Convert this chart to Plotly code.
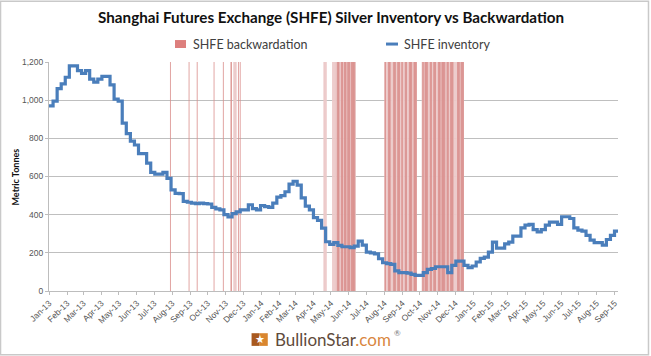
import pandas as pd
import plotly.graph_objects as go

TITLE = "Shanghai Futures Exchange (SHFE) Silver Inventory vs Backwardation"
Y_TITLE = "Metric Tonnes"
BRAND = "BullionStar"
BRAND_SUFFIX = ".com"
SERIES_BW = "SHFE backwardation"
SERIES_INV = "SHFE inventory"
INVENTORY_START = "2013-01-01"
INVENTORY = [
    970, 995, 1060, 1085, 1120, 1180, 1180, 1155, 1140, 1155,
    1110, 1095, 1110, 1125, 1125, 1080, 1005, 995, 880, 825,
    785, 765, 720, 720, 670, 622, 612, 612, 622, 590,
    530, 512, 510, 470, 465, 460, 458, 460, 458, 456,
    438, 430, 425, 400, 388, 405, 415, 425, 425, 452,
    432, 425, 448, 442, 438, 460, 492, 500, 520, 560,
    575, 555, 488, 445, 425, 385, 370, 330, 258, 244,
    253, 239, 232, 232, 227, 235, 261, 240, 204, 200,
    195, 169, 148, 143, 139, 105, 96, 96, 94, 87,
    82, 82, 96, 113, 118, 127, 127, 127, 96, 134,
    157, 157, 134, 122, 131, 152, 171, 178, 204, 256,
    225, 225, 247, 256, 288, 288, 331, 345, 349, 322,
    310, 322, 345, 361, 361, 349, 389, 389, 380, 331,
    319, 314, 291, 267, 253, 253, 240, 270, 291, 314, 314,
]
# Days of strong backwardation (solid stripes)
BACKWARDATION_STRONG = [
    ("2013-07-29", "2013-07-29"), ("2013-08-30", "2013-08-30"), ("2013-09-13", "2013-09-13"),
    ("2013-10-12", "2013-10-12"), ("2013-10-28", "2013-10-28"), ("2013-11-10", "2013-11-11"),
    ("2013-11-23", "2013-11-23"), ("2013-11-26", "2013-11-26"),
    ("2014-05-12", "2014-05-15"), ("2014-05-19", "2014-05-21"), ("2014-05-24", "2014-05-27"),
    ("2014-05-30", "2014-06-02"), ("2014-06-05", "2014-06-11"),
    ("2014-08-02", "2014-08-03"), ("2014-08-08", "2014-08-11"), ("2014-08-17", "2014-08-20"),
    ("2014-08-24", "2014-08-27"), ("2014-08-31", "2014-09-01"), ("2014-09-06", "2014-09-08"),
    ("2014-09-13", "2014-09-17"), ("2014-09-21", "2014-09-25"), ("2014-10-06", "2014-10-07"),
    ("2014-10-10", "2014-10-14"), ("2014-10-19", "2014-10-21"), ("2014-10-25", "2014-10-28"),
    ("2014-11-02", "2014-11-05"), ("2014-11-08", "2014-11-13"), ("2014-11-17", "2014-11-19"),
    ("2014-11-23", "2014-11-27"), ("2014-12-05", "2014-12-08"), ("2014-12-11", "2014-12-15"),
]
# Days of faint backwardation (pale stripes)
BACKWARDATION_FAINT = [
    ("2013-11-15", "2013-11-19"), ("2014-04-19", "2014-04-23"), ("2014-05-04", "2014-06-12"),
    ("2014-08-02", "2014-09-25"), ("2014-10-05", "2014-12-15"),
]
BACKWARDATION_LEVEL = 1200
MONTHS = pd.date_range("2013-01-01", "2015-09-01", freq="MS")
Y_TICKS = [0, 200, 400, 600, 800, 1000, 1200]

inv_dates = pd.date_range(INVENTORY_START, periods=len(INVENTORY), freq="7D")


def stripes(periods):
    xs, ys = [], []
    for a, b in periods:
        for d in pd.date_range(a, b):
            xs += [d, d, None]
            ys += [0, BACKWARDATION_LEVEL, None]
    return xs, ys


FONT = "Lato, 'Open Sans', sans-serif"
fig = go.Figure()
fx, fy = stripes(BACKWARDATION_FAINT)
fig.add_scatter(x=fx, y=fy, name=SERIES_BW, mode="lines",
                line=dict(color="#eccaca", width=1), showlegend=False)
sx, sy = stripes(BACKWARDATION_STRONG)
fig.add_scatter(x=sx, y=sy, name=SERIES_BW, mode="lines",
                line=dict(color="#d98e8c", width=0.8), showlegend=False)
fig.add_scatter(x=inv_dates, y=INVENTORY, name=SERIES_INV, mode="lines",
                line=dict(color="#4a7ebb", width=3.2, shape="hv"), showlegend=False)


def rect(x0, x1, y0, y1, fill, line=None, layer="above"):
    return dict(type="rect", xref="paper", yref="paper", x0=x0, x1=x1, y0=y0, y1=y1,
                fillcolor=fill, layer=layer,
                line=dict(width=1.5, color=line) if line else dict(width=0))


shapes = [
    rect(-0.0852, 1.0536, -0.2789, 1.2658, "rgba(0,0,0,0)", "#c9c9c9", "below"),
    rect(0.356, 0.3702, -0.2397, -0.1843, "#a8591f"),
    rect(0.3702, 0.3845, -0.2397, -0.1843, "#d9862f"),
    rect(0.2214, 0.2408, 1.061, 1.0959, "#dd7f7d"),
    dict(type="line", xref="paper", yref="paper", x0=0.5923, x1=0.6134, y0=1.0784, y1=1.0784,
         line=dict(color="#4a7ebb", width=3)),
]


def note(text, x, y, size, color="#404040", family=FONT, anchor="left", angle=0):
    return dict(text=text, xref="paper", yref="paper", x=x, y=y, xanchor=anchor, yanchor="middle",
                showarrow=False, textangle=angle, font=dict(size=size, color=color, family=family))


annotations = [
    note(SERIES_BW, 0.2496, 1.0763, 12.5),
    note(SERIES_INV, 0.6204, 1.0763, 12.5),
    note("<b>" + Y_TITLE + "</b>", -0.058, 0.5, 9, "#111111", anchor="center", angle=-90),
    note("★", 0.3702, -0.2113, 11, "#ffffff", "DejaVu Sans", "center"),
    note('<span style="color:#5f4b3c">' + BRAND + '</span><span style="color:#d9873f">'
         + BRAND_SUFFIX + "</span>", 0.3937, -0.2113, 17, family="Lato"),
    note("®", 0.603, -0.1817, 8, "#777777", "Lato"),
]

fig.update_layout(
    width=651, height=356, autosize=False,
    margin=dict(l=49, r=33, t=61.5, b=65),
    paper_bgcolor="white", plot_bgcolor="white", font=dict(family=FONT),
    title=dict(text="<b>" + TITLE + "</b>", x=0.5085, xanchor="center", y=0.949, yanchor="middle",
               automargin=False, font=dict(size=15.2, color="#111111", family=FONT)),
    showlegend=False, shapes=shapes, annotations=annotations,
    xaxis=dict(type="date", range=["2013-01-01", "2015-09-07"], tickvals=list(MONTHS),
               tickformat="%b-%y", tickangle=-45, ticks="outside", ticklen=3, automargin=False,
               tickcolor="#bdbdbd", showgrid=False, showline=True, linecolor="#bdbdbd",
               tickfont=dict(size=8.5, color="#555555", family="Liberation Sans")),
    yaxis=dict(range=[0, 1200], tickvals=Y_TICKS, tickformat=",", ticks="outside", ticklen=3,
               automargin=False, tickcolor="#bdbdbd", gridcolor="#bfbfbf", gridwidth=1,
               showline=True, linecolor="#bdbdbd", zeroline=False,
               tickfont=dict(size=8.5, color="#555555", family="Liberation Sans")),
)
fig.write_html("out.html", config={"displayModeBar": False},
               post_script="document.body.style.margin='0';document.body.style.overflow='hidden';")
